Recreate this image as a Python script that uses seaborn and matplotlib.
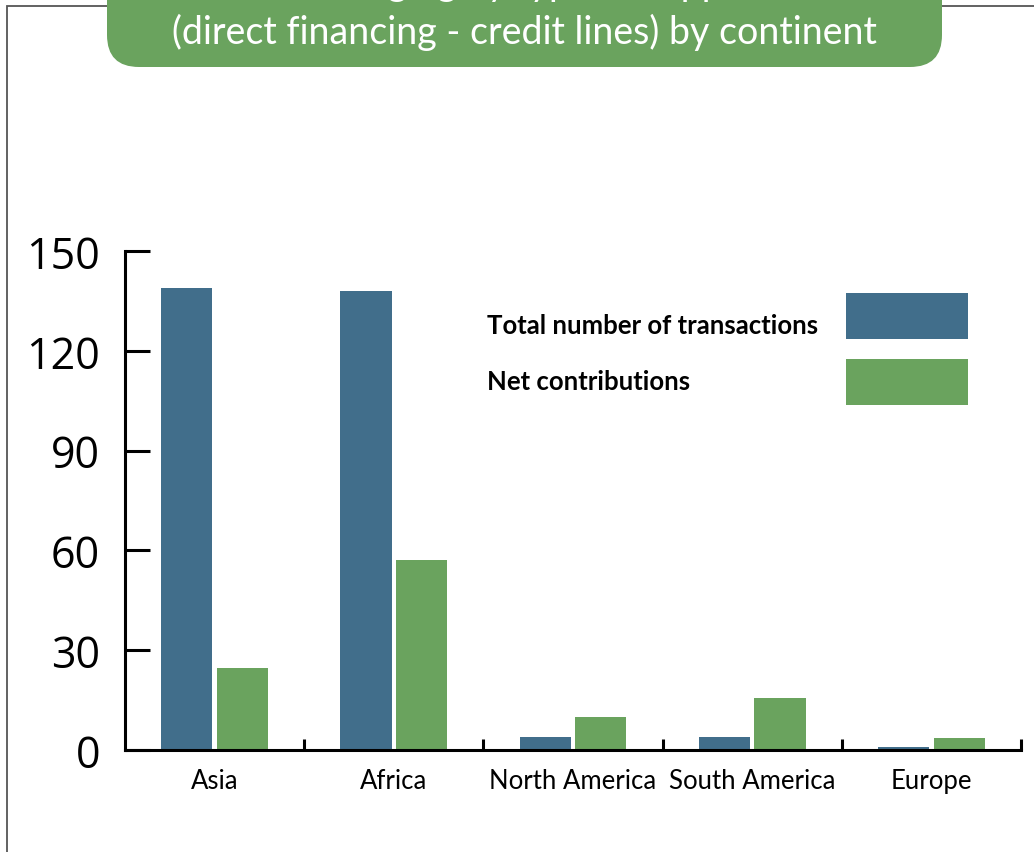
import matplotlib
matplotlib.use("Agg")
import matplotlib.pyplot as plt
import seaborn as sns
import pandas as pd
from matplotlib.patches import FancyBboxPatch, Rectangle

# ---- data ----
continents = ["Asia", "Africa", "North America", "South America", "Europe"]
total_transactions = [139, 138, 4, 4, 1]
net_contributions = [24.5, 57, 10, 15.5, 3.5]
series_names = ["Total number of transactions", "Net contributions"]
y_ticks = [0, 30, 60, 90, 120, 150]
title_lines = ["Leveraging by type of support",
               "(direct financing - credit lines) by continent"]

BLUE = "#416e8b"
GREEN = "#6aa35e"

df = pd.DataFrame({
    "continent": continents * 2,
    "series": [series_names[0]] * len(continents) + [series_names[1]] * len(continents),
    "value": total_transactions + net_contributions,
})

sns.set_theme(style="white")
plt.rcParams["font.family"] = ["Lato", "DejaVu Sans"]

W, H = 1034, 853
fig = plt.figure(figsize=(W / 100, H / 100), dpi=100)
fig.patch.set_facecolor("white")

# outer frame (top and left edges visible)
fig.add_artist(Rectangle((7 / W, -0.2), 1.5, 0.2 + (H - 7) / H, fill=False,
                         edgecolor="#555555", lw=1.3, transform=fig.transFigure, zorder=1))

ax = fig.add_axes([125 / W, 102 / H, 896 / W, 499 / H])
sns.barplot(data=df, x="continent", y="value", hue="series", order=continents,
            hue_order=series_names, palette=[BLUE, GREEN], width=0.62, gap=0.08,
            saturation=1, linewidth=0, legend=False, ax=ax)
ax.set_xlim(-0.5, len(continents) - 0.5)
ax.set_ylim(0, 150)
ax.set_xlabel("")
ax.set_ylabel("")
ax.patch.set_alpha(0)

for s in ["top", "right"]:
    ax.spines[s].set_visible(False)
for s in ["left", "bottom"]:
    ax.spines[s].set_color("black")
    ax.spines[s].set_linewidth(2.2)

ax.set_yticks(y_ticks)
ax.tick_params(axis="y", direction="in", length=18, width=2.2, pad=18,
               labelsize=31, color="black", labelcolor="black", left=True)
for lbl in ax.get_yticklabels():
    lbl.set_fontfamily(["Open Sans", "DejaVu Sans"])

ax.set_xticks(range(len(continents)))
ax.set_xticklabels(continents)
ax.set_xticks([i + 0.5 for i in range(len(continents))], minor=True)
ax.tick_params(axis="x", which="major", length=0, pad=13, labelsize=18.5, labelcolor="black")
ax.tick_params(axis="x", which="minor", direction="in", length=8, width=2.2,
               color="black", bottom=True)

# legend (labels left aligned, swatches right aligned)
legend_rows = [(0.852, 0.8236, BLUE), (0.739, 0.6914, GREEN)]
for name, (ty, py, col) in zip(series_names, legend_rows):
    ax.text(0.404, ty, name, transform=ax.transAxes, ha="left", va="center",
            fontsize=18.5, fontweight="bold", color="black")
    ax.add_patch(Rectangle((0.8047, py), 0.1362, 0.0922, transform=ax.transAxes,
                           facecolor=col, edgecolor="none", clip_on=False))

# title banner
fig.add_artist(FancyBboxPatch((1.07, 7.85), 8.35, 2.0,
                              boxstyle="round,pad=0,rounding_size=0.32",
                              transform=fig.dpi_scale_trans, facecolor=GREEN,
                              edgecolor="none", zorder=3))
fig.text(524 / W, (H + 5) / H, title_lines[0], ha="center", va="baseline",
         fontsize=27, color="white", zorder=4)
fig.text(524 / W, (H - 44) / H, title_lines[1], ha="center", va="baseline",
         fontsize=27, color="white", zorder=4)

fig.savefig("out.png", dpi=100, facecolor="white")
